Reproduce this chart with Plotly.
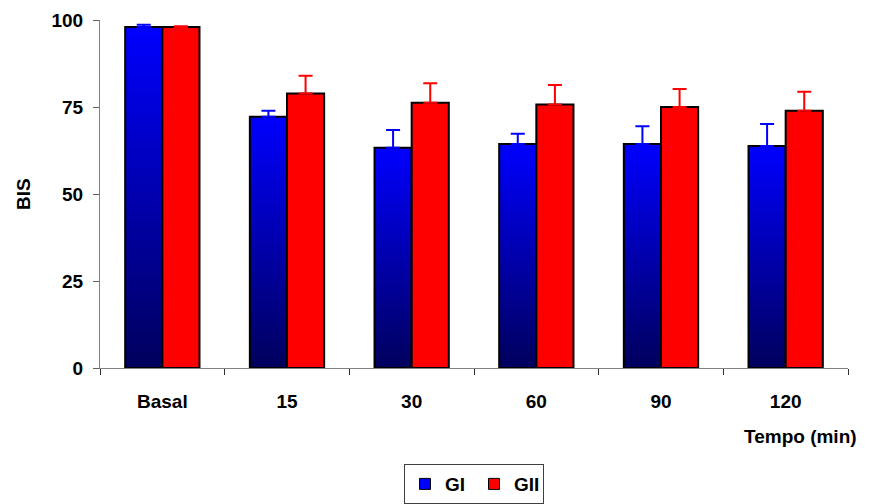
import plotly.graph_objects as go

categories = ["Basal", "15", "30", "60", "90", "120"]
gi_values = [98.0, 72.2, 63.3, 64.4, 64.4, 63.8]
gi_errors = [0.6, 1.7, 5.1, 2.9, 5.1, 6.3]
gii_values = [98.0, 78.9, 76.2, 75.7, 75.0, 73.9]
gii_errors = [0.2, 5.1, 5.6, 5.6, 5.2, 5.5]
y_ticks = [0, 25, 50, 75, 100]

BAR_W = 0.298
FONT = dict(family="Arial, Liberation Sans, sans-serif", size=19, color="black", weight="bold")

fig = go.Figure()

series = [
    ("GI", gi_values, gi_errors, -1, "blue"),
    ("GII", gii_values, gii_errors, 0, "red"),
]

for name, vals, errs, side, color in series:
    centers = []
    for i, v in enumerate(vals):
        x0 = i + side * BAR_W
        x1 = x0 + BAR_W
        centers.append((x0 + x1) / 2)
        kw = {}
        if color == "blue":
            kw["fillgradient"] = dict(
                type="vertical",
                colorscale=[[0, "rgb(0,0,92)"], [1, "rgb(0,0,255)"]],
                start=0, stop=v,
            )
        else:
            kw["fillcolor"] = "rgb(255,0,0)"
        fig.add_trace(go.Scatter(
            x=[x0, x0, x1, x1, x0], y=[0, v, v, 0, 0],
            mode="lines", fill="toself",
            line=dict(color="black", width=2),
            showlegend=False, hoverinfo="skip", **kw,
        ))
    # error bars (upper only)
    fig.add_trace(go.Scatter(
        x=centers, y=vals, mode="markers",
        marker=dict(size=1, color="rgba(0,0,0,0)"),
        error_y=dict(type="data", array=errs, arrayminus=[0] * len(errs),
                     symmetric=False, color=color, thickness=2, width=7),
        showlegend=False, hoverinfo="skip",
    ))
    # legend entry
    fig.add_trace(go.Scatter(
        x=[None], y=[None], mode="markers", name=name,
        marker=dict(symbol="square", size=11, color=color,
                    line=dict(color="black", width=1)),
    ))

fig.update_layout(
    width=864, height=496,
    margin=dict(l=92, r=24, t=12, b=136, autoexpand=False),
    paper_bgcolor="white", plot_bgcolor="white",
    font=FONT,
    showlegend=True,
    legend=dict(
        orientation="h", x=0.5, xanchor="center", y=-0.276, yanchor="top",
        bordercolor="#404040", borderwidth=1, font=FONT,
        itemwidth=30, tracegroupgap=0,
        entrywidth=24, entrywidthmode="pixels",
    ),
    xaxis=dict(
        range=[-0.5, 5.5], tickmode="array", automargin=False,
        tickvals=list(range(len(categories))), ticktext=categories,
        ticks="", showgrid=False, zeroline=False,
        showline=True, linecolor="#808080", linewidth=1,
        ticklabelstandoff=16, tickfont=FONT,
        minor=dict(tickmode="linear", tick0=0.5, dtick=1, ticks="outside",
                   ticklen=6, tickcolor="#303030", tickwidth=1, showgrid=False),
    ),
    yaxis=dict(
        range=[0, 100], tickmode="array", tickvals=y_ticks, automargin=False,
        ticks="outside", ticklen=6, tickcolor="#606060",
        showgrid=False, zeroline=False,
        showline=True, linecolor="#808080", linewidth=1,
        ticklabelstandoff=6, tickfont=FONT,
    ),
    annotations=[
        dict(text="BIS", xref="paper", yref="paper", x=-0.103, y=0.5,
             xanchor="center", yanchor="middle", textangle=-90,
             showarrow=False, font=FONT),
        dict(text="Tempo (min)", xref="paper", yref="paper", x=0.936, y=-0.197,
             xanchor="center", yanchor="middle", showarrow=False, font=FONT),
    ],
)

fig.write_html("out.html")
